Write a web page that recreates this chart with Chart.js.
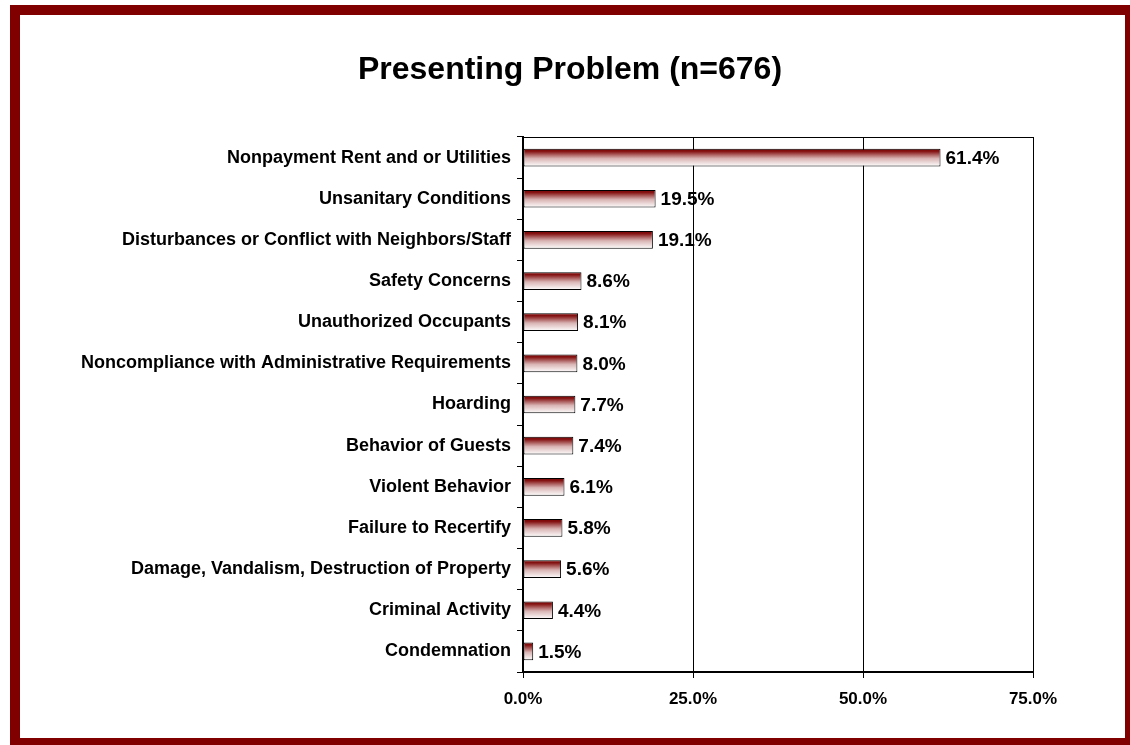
<!DOCTYPE html>
<html>
<head>
<meta charset="utf-8">
<script src="https://cdn.jsdelivr.net/npm/chart.js@4.4.0/dist/chart.umd.min.js"></script>
<style>
  html, body { margin: 0; padding: 0; background: #fff; }
  #frame {
    position: absolute; left: 10px; top: 5px;
    width: 1105px; height: 723px;
    border: 10px solid #800000;
    background: #fff;
  }
  #chart { display: block; }
</style>
</head>
<body>
<div id="frame"><canvas id="chart" width="1105" height="723"></canvas></div>
<script>
const chartTitle = 'Presenting Problem (n=676)';
const categories = [
    'Nonpayment Rent and or Utilities',
    'Unsanitary Conditions',
    'Disturbances or Conflict with Neighbors/Staff',
    'Safety Concerns',
    'Unauthorized Occupants',
    'Noncompliance with Administrative Requirements',
    'Hoarding',
    'Behavior of Guests',
    'Violent Behavior',
    'Failure to Recertify',
    'Damage, Vandalism, Destruction of Property',
    'Criminal Activity',
    'Condemnation'
];
const percentages = [61.4, 19.5, 19.1, 8.6, 8.1, 8.0, 7.7, 7.4, 6.1, 5.8, 5.6, 4.4, 1.5];
const xTicks = [0, 25, 50, 75];

const FONT = '"Liberation Sans", Arial, sans-serif';
const BAR_PCT = 0.43;
const ctx = document.getElementById('chart').getContext('2d');

// vertical maroon -> white fill on each bar
function barGradient(context) {
    const chart = context.chart;
    const area = chart.chartArea;
    if (!area || !chart.scales.y) return '#c08080';
    const y = chart.scales.y.getPixelForValue(context.dataIndex);
    const h = (area.bottom - area.top) / categories.length * BAR_PCT;
    const g = chart.ctx.createLinearGradient(0, y - h / 2, 0, y + h / 2);
    g.addColorStop(0, '#7a0000');
    g.addColorStop(0.15, '#861414');
    g.addColorStop(0.55, '#d9b4b4');
    g.addColorStop(1, '#ffffff');
    return g;
}

// title, top border of plot area, value labels after each bar
const extras = {
    id: 'extras',
    afterDatasetsDraw(chart) {
        const c = chart.ctx;
        const area = chart.chartArea;
        c.save();
        c.strokeStyle = '#000';
        c.lineWidth = 1;
        c.beginPath();
        c.moveTo(area.left, area.top + 0.5);
        c.lineTo(area.right, area.top + 0.5);
        c.stroke();

        c.fillStyle = '#000';
        c.font = 'bold 32px ' + FONT;
        c.textAlign = 'center';
        c.textBaseline = 'alphabetic';
        c.fillText(chartTitle, 550, 64);

        c.font = 'bold 19px ' + FONT;
        c.textAlign = 'left';
        c.textBaseline = 'middle';
        chart.getDatasetMeta(0).data.forEach((bar, i) => {
            c.fillText(percentages[i].toFixed(1) + '%', bar.x + 5, bar.y + 1);
        });
        c.restore();
    }
};

new Chart(ctx, {
    type: 'bar',
    data: {
        labels: categories,
        datasets: [{
            data: percentages,
            backgroundColor: barGradient,
            borderColor: '#000',
            borderWidth: 1,
            borderSkipped: false,
            categoryPercentage: 1,
            barPercentage: BAR_PCT
        }]
    },
    options: {
        indexAxis: 'y',
        responsive: false,
        animation: false,
        layout: { padding: { left: 0, right: 92, top: 122, bottom: 0 } },
        plugins: {
            legend: { display: false },
            tooltip: { enabled: false },
            title: { display: false }
        },
        scales: {
            x: {
                min: 0,
                max: 75,
                afterBuildTicks: (scale) => { scale.ticks = xTicks.map(v => ({ value: v })); },
                afterFit: (scale) => { scale.height = 66; },
                border: { color: '#000', width: 2 },
                grid: { color: '#000', lineWidth: 1, drawTicks: true, tickLength: 6 },
                ticks: {
                    color: '#000',
                    padding: 11,
                    maxRotation: 0,
                    font: { family: FONT, size: 17, weight: 'bold' },
                    callback: (v) => Number(v).toFixed(1) + '%'
                }
            },
            y: {
                afterFit: (scale) => { scale.width = 503; },
                border: { color: '#000', width: 2 },
                grid: { drawOnChartArea: false, drawTicks: true, tickLength: 6, color: '#000', offset: true },
                ticks: {
                    color: '#000',
                    padding: 6,
                    font: { family: FONT, size: 18, weight: 'bold' }
                }
            }
        }
    },
    plugins: [extras]
});
</script>
</body>
</html>
